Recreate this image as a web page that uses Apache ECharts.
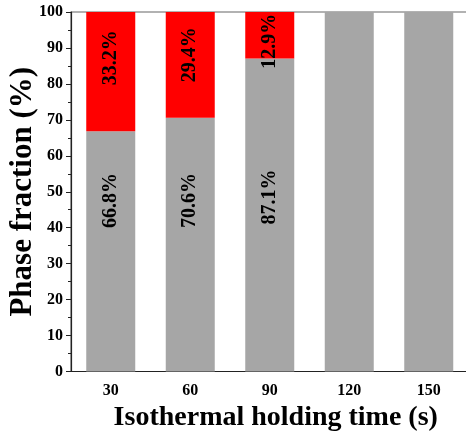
<!DOCTYPE html>
<html>
<head>
<meta charset="utf-8">
<script src="https://cdn.jsdelivr.net/npm/echarts@6/dist/echarts.min.js"></script>
<style>html,body{margin:0;padding:0;background:#fff;}#c{width:466px;height:436px;}</style>
</head>
<body>
<div id="c"></div>
<script>
const categories = ['30', '60', '90', '120', '150'];
const grayValues = [66.8, 70.6, 87.1, 100, 100];
const redValues = [33.2, 29.4, 12.9, 0, 0];
const grayLabelOffsets = [51, 44, 18, 0, 0];
const redLabelOffsets = [14, 10, -6, 0, 0];

const FONT = '"Liberation Serif", "DejaVu Serif", serif';
const chart = echarts.init(document.getElementById('c'), null, {renderer: 'canvas'});

function makeData(vals, offs) {
  return vals.map((v, i) => ({
    value: v,
    label: {
      show: v > 0 && v < 100,
      offset: [offs[i], 0]
    }
  }));
}

const labelStyle = {
  position: 'inside',
  rotate: 90,
  color: '#000',
  fontFamily: FONT,
  fontWeight: 'bold',
  fontSize: 20,
  formatter: p => p.value.toFixed(1) + '%'
};

chart.setOption({
  animation: false,
  grid: {left: 71, top: 12, right: -2.5, bottom: 64.5, containLabel: false, outerBoundsMode: 'none',
         show: true, borderColor: '#666', borderWidth: 1.2, backgroundColor: 'transparent'},
  xAxis: {
    type: 'category',
    data: categories,
    name: 'Isothermal holding time (s)',
    nameLocation: 'middle',
    nameGap: 32,
    nameMoveOverlap: false,
    nameTextStyle: {fontFamily: FONT, fontWeight: 'bold', fontSize: 28, color: '#000', padding: [0, 0, 0, 12]},
    axisLine: {lineStyle: {color: '#222', width: 1.2}},
    axisTick: {alignWithLabel: true, length: 4, lineStyle: {color: '#222'}},
    axisLabel: {fontFamily: FONT, fontWeight: 'bold', fontSize: 16, color: '#000', margin: 11},
    splitLine: {show: false}
  },
  yAxis: {
    type: 'value',
    min: 0, max: 100, interval: 10,
    name: 'Phase fraction (%)',
    nameLocation: 'middle',
    nameGap: 33,
    nameMoveOverlap: false,
    nameTextStyle: {fontFamily: FONT, fontWeight: 'bold', fontSize: 31, color: '#000'},
    axisLine: {show: true, lineStyle: {color: '#222', width: 1.2}},
    axisTick: {show: true, length: 5, lineStyle: {color: '#222'}},
    minorTick: {show: true, splitNumber: 2, length: 3, lineStyle: {color: '#222'}},
    axisLabel: {fontFamily: FONT, fontWeight: 'bold', fontSize: 16, color: '#000', margin: 8},
    splitLine: {show: false}
  },
  series: [
    {
      type: 'bar', stack: 'a', barWidth: 49,
      itemStyle: {color: '#a6a6a6'},
      label: labelStyle,
      data: makeData(grayValues, grayLabelOffsets)
    },
    {
      type: 'bar', stack: 'a', barWidth: 49,
      itemStyle: {color: '#ff0000'},
      label: labelStyle,
      data: makeData(redValues, redLabelOffsets)
    }
  ]
});
</script>
</body>
</html>
